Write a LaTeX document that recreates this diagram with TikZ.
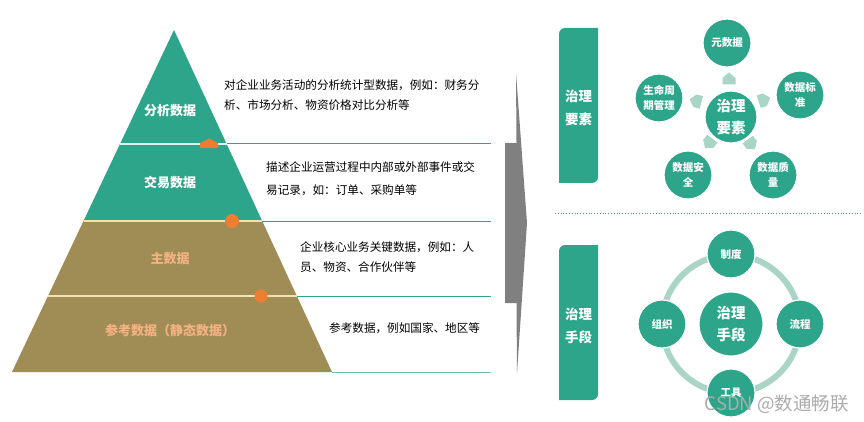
\documentclass[tikz,border=0pt]{standalone}
\usepackage{fontspec}
\setmainfont{Noto Sans CJK SC}
\usetikzlibrary{shapes.geometric}
\definecolor{tealc}{HTML}{2CA58B}
\definecolor{olivec}{HTML}{A08D56}
\definecolor{orangec}{HTML}{ED7D31}
\definecolor{ltorange}{HTML}{F4B183}
\definecolor{ringc}{HTML}{A9D4C6}
\definecolor{arrowc}{HTML}{A9D5C6}
\definecolor{grayarrow}{HTML}{808080}
\definecolor{sepyellow}{HTML}{F3E2B8}
\tikzset{
  layerlabel/.style={font=\fontsize{13}{16}\selectfont\bfseries, inner sep=0pt},
  desc/.style={font=\fontsize{11.6}{20}\selectfont, align=left, anchor=west, inner sep=0pt, text=black},
  rline/.style={draw=tealc, line width=1pt},
  outcirc/.style={circle, fill=tealc, draw=white, line width=1.2pt, minimum size=48pt, inner sep=0pt, text=white, align=center, font=\fontsize{10.5}{15}\selectfont\bfseries},
  midcirc/.style={circle, fill=tealc, draw=white, line width=1.2pt, minimum size=52pt, inner sep=0pt, text=white, align=center, font=\fontsize{14.5}{22}\selectfont\bfseries},
  sidebox/.style={inner sep=0pt, text=white, align=center, font=\fontsize{13.5}{23}\selectfont\bfseries},
}
\begin{document}
\begin{tikzpicture}[x=1pt,y=-1pt]
\useasboundingbox (0,0) rectangle (864,422);
\fill[white] (0,0) rectangle (864,422);

% ---------- pyramid ----------
\fill[tealc] (174,30) -- (262.2,221) -- (83.5,221) -- cycle;
\fill[olivec] (83.5,221) -- (262.2,221) -- (332,372) -- (12,372) -- cycle;
\draw[white!85!tealc, line width=1.2pt] (120,144) -- (226.7,144);
\draw[sepyellow, line width=1.2pt] (83.5,221) -- (262.2,221);
\draw[sepyellow, line width=1.2pt] (48,296) -- (296.9,296);
% right lines
\draw[rline] (226.7,144) -- (491,144);
\draw[rline] (262.2,221) -- (491,221);
\draw[rline] (296.9,296) -- (491,296);
\draw[rline, draw=tealc!70] (332,372) -- (491,372);
% markers
\fill[orangec] (200,148) -- (200,143) -- (209,138.5) -- (218,143) -- (218,148) -- cycle;
\fill[orangec] (232,221) circle (7);
\fill[orangec] (261,296) circle (6.5);

\node[layerlabel, text=white] (l1) at (170,111) {分析数据};
\node[layerlabel, text=white] (l2) at (170,183) {交易数据};
\node[layerlabel, text=ltorange] (l3) at (170,259) {主数据};
\node[layerlabel, text=ltorange] (l4) at (170,330) {参考数据（静态数据）};

\node[desc] (d1) at (224,95) {对企业业务活动的分析统计型数据，例如：财务分\\析、市场分析、物资价格对比分析等};
\node[desc, font=\fontsize{11.6}{23}\selectfont] (d2) at (266,179) {描述企业运营过程中内部或外部事件或交\\易记录，如：订单、采购单等};
\node[desc] (d3) at (300,257.5) {企业核心业务关键数据，例如：人\\员、物资、合作伙伴等};
\node[desc] (d4) at (329,328) {参考数据，例如国家、地区等};

% ---------- gray arrow ----------
\fill[grayarrow] (516,73) -- (527,223) -- (517,373) -- (516.5,303) -- (505,303) -- (505,143) -- (516.5,143) -- cycle;

% ---------- side boxes ----------
\fill[tealc] (559,183) -- (559,34) arc[start angle=180,end angle=270,radius=6] -- (598,28) -- (598,177) arc[start angle=0,end angle=90,radius=6] -- cycle;
\node[sidebox] (box1) at (578.5,108) {治理\\要素};
\fill[tealc] (559,400) -- (559,251) arc[start angle=180,end angle=270,radius=6] -- (598,245) -- (598,394) arc[start angle=0,end angle=90,radius=6] -- cycle;
\node[sidebox] (box2) at (578.5,325.5) {治理\\手段};

% dotted separator
\draw[tealc!60!gray, dotted, line width=0.8pt] (555,213) -- (862,213);

% ---------- governance elements ----------
\node[midcirc] (ys) at (731,117) {治理\\要素};
\node[outcirc] (yuan) at (727,43) {元数据};
\node[outcirc] (smzq) at (659,98) {生命周\\期管理};
\node[outcirc] (bz) at (800,95) {数据标\\准};
\node[outcirc] (aq) at (688,175) {数据安\\全};
\node[outcirc] (zl) at (773,175) {数据质\\量};
% small arrows
\foreach \px/\py/\r in {729/79/0, 696/101/75, 764/100/-72, 709/143/143, 751/144/-144}{
  \begin{scope}[shift={(\px,\py)}, rotate=\r]
    \fill[arrowc] (-6.5,5.5) -- (6.5,5.5) -- (6.5,-1) -- (0,-6.5) -- (-6.5,-1) -- cycle;
  \end{scope}
}

% ---------- governance means ----------
\draw[ringc, line width=6pt] (731,324) circle (69);
\node[midcirc, minimum size=64pt] (sd) at (731,324) {治理\\手段};
\node[outcirc] (zd) at (731,254) {制度};
\node[outcirc] (zz) at (662,324) {组织};
\node[outcirc] (lc) at (800,324) {流程};
\node[outcirc] (gj) at (731,393) {工具};

% watermark
\node[inner sep=0pt, text=gray!65, font=\fontsize{18.5}{20}\selectfont, anchor=east] (wm) at (849,404) {CSDN @数通畅联};
\end{tikzpicture}
\end{document}
